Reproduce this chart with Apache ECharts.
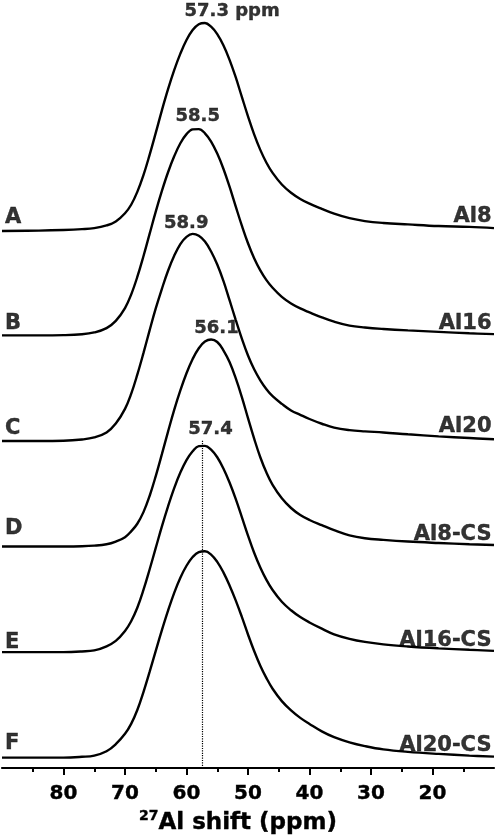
<!DOCTYPE html>
<html>
<head>
<meta charset="utf-8">
<script src="https://cdn.jsdelivr.net/npm/echarts@6/dist/echarts.min.js"></script>
<style>
  html, body { margin: 0; padding: 0; background: #fff; }
  #chart { width: 498px; height: 840px; }
</style>
</head>
<body>
<div id="chart"></div>
<script>
// 27Al chemical shift grid (ppm), shared by all traces
const ppmGrid = [90, 84, 80, 77, 75, 73, 71.5, 70, 69, 68, 67, 66, 65, 64, 63, 62, 61, 60, 59, 58, 57, 56, 55,
  54, 53, 52, 51, 50, 49, 48, 47, 46, 44.5, 43, 41.5, 40, 38, 36, 33.5, 31, 28, 24, 19, 14, 10]

// normalised intensities (peak = 100)
const al8 = [-0.6, -0.4, -0.1, 0.3, 0.8, 2.1, 4, 8, 12.1, 18.3, 26.4, 36.2, 46.8, 57.7, 67.9, 77.1, 85.1, 91.7, 96.5, 99.3, 99.9, 98.1, 94.5,
  89.1, 82.1, 73.7, 64.2, 54.8, 46.1, 38.6, 32.4, 27.5, 21.9, 17.9, 14.9, 12.6, 10.1, 7.8, 5.6, 4.2, 3.3, 2.6, 1.8, 1.4, 0.8]
const al16 = [0, 0, 0.1, 0.5, 1.4, 3.5, 7, 13.2, 19.7, 28.2, 38.2, 49, 59.8, 69.8, 78.8, 86.5, 92.8, 97.2, 99.5, 99.6, 97.6, 93.6, 87.8,
  80.5, 71.8, 62.3, 53, 44.5, 37.3, 31.4, 26.7, 23, 18.6, 15.4, 13, 11.1, 8.7, 6.6, 4.7, 3.8, 3.1, 2.4, 1.7, 1, 0.6]
const al20 = [0, 0, 0.1, 0.7, 1.7, 4.1, 8.4, 15.5, 22.7, 32, 42.4, 53.4, 64, 73.5, 82.2, 89.4, 95.1, 98.6, 100, 99.1, 96.3, 91.5, 85.2,
  77.3, 68, 58.5, 49.4, 41.3, 34.6, 29.3, 25, 21.6, 17.9, 14.7, 12.6, 10.6, 8.3, 6.4, 5.2, 4.6, 4.1, 3.2, 2.2, 1.4, 0.8]
const al8cs = [0, 0, 0, 0.1, 0.4, 1.1, 2.4, 4.5, 7.3, 11, 16.6, 24.4, 34, 44.6, 55.5, 66, 75.4, 83.7, 90.6, 95.8, 99, 100, 98.8,
  94.8, 89.1, 81.3, 72.2, 62, 52.1, 43.1, 35.7, 29.8, 23.3, 18.6, 15.2, 12.8, 10.3, 7.9, 5.4, 4, 3.2, 2.4, 1.7, 1.1, 0.7]
const al16cs = [0, 0, 0, 0.3, 0.8, 2.8, 5.4, 10.2, 14.9, 21.4, 30, 39.9, 50.3, 60.7, 70.4, 79.2, 86.7, 92.7, 97, 99.5, 99.6, 97.8, 94.1,
  88.7, 81.9, 74, 65.2, 56.3, 48, 40.9, 34.9, 30, 24.3, 20.2, 16.9, 14.3, 11.3, 8.6, 6.4, 4.9, 3.7, 2.7, 1.8, 1.1, 0.6]
const al20cs = [0, 0, 0, 0.4, 1, 3.1, 6.5, 11.5, 16.3, 23, 31.7, 41.4, 51.6, 61.6, 71, 79.6, 86.9, 92.7, 96.9, 99.3, 99.7, 98.1, 94.6,
  89.5, 83.2, 76, 68, 59.5, 51.5, 44.4, 38.4, 33.3, 27.3, 22.8, 19.2, 16.3, 12.7, 9.9, 7.4, 5.6, 4, 2.8, 1.8, 1, 0.5]

const sampleNames = ['Al8', 'Al16', 'Al20', 'Al8-CS', 'Al16-CS', 'Al20-CS']
const panelLetters = ['A', 'B', 'C', 'D', 'E', 'F']
const peakPpm = [57.3, 58.5, 58.9, 56.1, 57.4]
const peakTags = ['57.3 ppm', '58.5', '58.9', '56.1', '57.4']
const tickValues = [80, 70, 60, 50, 40, 30, 20]
const guidePpm = 57.4

const spectra = [al8, al16, al20, al8cs, al16cs, al20cs]

const X_MIN = 10
const X_MAX = 90
const Y_MIN = -5
const STEP = 51 // vertical spacing between stacked traces
const FONT = 'DejaVu Sans'
const INK = '#000'

// small label nudges [dx, dy] in px
const peakNudge = [[29, 1], [2, 0], [-7, 2], [6, 2], [8, -4]]
const letterNudge = [[0, 1], [0, 2], [0, 1], [0, -4], [0, 4], [0, -1]]
const nameNudge = [[0, 0], [0, 2], [0, -1], [0, 2], [0, 2], [0, 1]]

const chart = echarts.init(document.getElementById('chart'))

function offsetOf(i) {
  return (spectra.length - 1 - i) * STEP
}

const traceSeries = spectra.map((vals, i) => ({
  type: 'line',
  name: sampleNames[i],
  data: ppmGrid.map((p, k) => [p, vals[k] + offsetOf(i)]),
  symbol: 'none',
  smooth: 0.4,
  lineStyle: { color: '#000', width: 2.4 },
  silent: true,
  z: 3,
}))

const textStyle = (size) => ({
  fontFamily: FONT,
  fontWeight: 'bold',
  fontSize: size,
  color: INK,
  textBorderColor: INK,
  textBorderWidth: 0.4,
})

const peakSeries = {
  type: 'scatter',
  symbolSize: 0,
  silent: true,
  data: peakPpm.map((p, i) => ({
    value: [p, offsetOf(i) + Math.max(...spectra[i])],
    label: { formatter: peakTags[i], offset: peakNudge[i] },
  })),
  label: {
    show: true,
    position: 'top',
    distance: 4,
    ...textStyle(18),
  },
  z: 5,
}

const letterSeries = {
  type: 'scatter',
  symbolSize: 0,
  silent: true,
  data: panelLetters.map((t, i) => ({
    value: [X_MAX - 0.5, offsetOf(i)],
    label: { formatter: t, offset: letterNudge[i] },
  })),
  label: {
    show: true,
    position: 'top',
    align: 'left',
    distance: 3,
    ...textStyle(21),
  },
  z: 5,
}

const nameSeries = {
  type: 'scatter',
  symbolSize: 0,
  silent: true,
  data: sampleNames.map((t, i) => ({
    value: [X_MIN + 0.4, offsetOf(i)],
    label: { formatter: t, offset: nameNudge[i] },
  })),
  label: {
    show: true,
    position: 'top',
    align: 'right',
    distance: 3,
    ...textStyle(21),
  },
  z: 5,
}

// dotted guide through the 57.4 ppm peak down to the axis
const guideSeries = {
  type: 'line',
  symbol: 'none',
  silent: true,
  data: [
    [guidePpm, offsetOf(4) + Math.max(...al16cs) + 2.5],
    [guidePpm, Y_MIN],
  ],
  lineStyle: { color: '#000', width: 1.2, type: 'dotted' },
  z: 2,
}

const option = {
  animation: false,
  backgroundColor: '#fff',
  grid: {
    left: 2,
    right: 4,
    top: 0,
    bottom: 72,
    outerBoundsMode: 'none',
  },
  xAxis: {
    type: 'value',
    inverse: true,
    min: X_MIN,
    max: X_MAX,
    interval: 10,
    axisLine: { onZero: false, lineStyle: { color: '#000', width: 2.2 } },
    axisTick: {
      customValues: tickValues,
      length: 7,
      lineStyle: { color: '#000', width: 2 },
    },
    minorTick: {
      show: true,
      splitNumber: 2,
      length: 4,
      lineStyle: { color: '#000', width: 2 },
    },
    axisLabel: {
      customValues: tickValues,
      margin: 16,
      ...textStyle(20),
    },
    splitLine: { show: false },
    minorSplitLine: { show: false },
    name: '{sup|27}{main|Al shift (ppm)}',
    nameLocation: 'middle',
    nameGap: 38,
    nameTextStyle: {
      padding: [0, 20, 0, 0],
      rich: {
        sup: { ...textStyle(14), lineHeight: 16, verticalAlign: 'top' },
        main: { ...textStyle(23), lineHeight: 28 },
      },
    },
  },
  yAxis: {
    type: 'value',
    show: false,
    min: Y_MIN,
    max: 366,
  },
  series: [...traceSeries, guideSeries, peakSeries, letterSeries, nameSeries],
}

chart.setOption(option)
</script>
</body>
</html>
